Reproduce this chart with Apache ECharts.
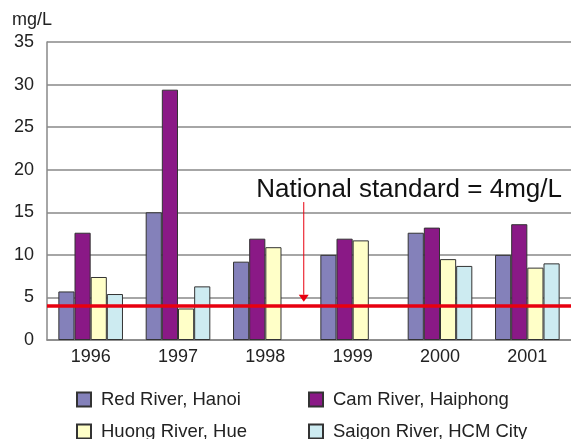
<!DOCTYPE html>
<html>
<head>
<meta charset="utf-8">
<title>Water quality of Vietnamese rivers</title>
<script src="https://cdn.jsdelivr.net/npm/echarts@6/dist/echarts.min.js"></script>
<style>
  html, body { margin: 0; padding: 0; background: #fff; }
  #chart { width: 571px; height: 439px; }
</style>
</head>
<body>
<div id="chart"></div>
<script>
// Years on the category axis
const years = ['1996', '1997', '1998', '1999', '2000', '2001'];

// Concentration per river, mg/L (null = no measurement)
const redRiverHanoi     = [5.7, 15.0, 9.2, 10.0, 12.6, 10.0];
const camRiverHaiphong  = [12.6, 29.4, 11.9, 11.9, 13.2, 13.6];
const huongRiverHue     = [7.4, 3.7, 10.9, 11.7, 9.5, 8.5];
const saigonRiverHcm    = [5.4, 6.3, null, null, 8.7, 9.0];

const seriesNames = ['Red River, Hanoi', 'Cam River, Haiphong', 'Huong River, Hue', 'Saigon River, HCM City'];
const seriesValues = [redRiverHanoi, camRiverHaiphong, huongRiverHue, saigonRiverHcm];
const seriesColors = ['#8481ba', '#8a1986', '#ffffc8', '#cdebf1'];

// National standard threshold and its annotation
const standardValue = 4;
const standardLabel = 'National standard = 4mg/L';
const arrowTopValue = 16.2;
const arrowTipValue = 4.5;

// Y-axis scale
const yMin = 0, yMax = 35, yStep = 5;

const FONT = '"Liberation Sans", Arial, Helvetica, sans-serif';

const chart = echarts.init(document.getElementById('chart'));

const series = seriesNames.map((name, i) => {
  const s = {
    name: name,
    type: 'bar',
    data: seriesValues[i],
    barGap: '0%',
    barCategoryGap: '26%',
    itemStyle: { color: seriesColors[i], borderColor: '#333', borderWidth: 1 },
    emphasis: { disabled: true },
    animation: false
  };
  if (i === 0) {
    s.markLine = {
      silent: true,
      symbol: 'none',
      label: { show: false },
      lineStyle: { color: '#e8000f', width: 3.5, type: 'solid' },
      data: [{ yAxis: standardValue }],
      animation: false
    };
  }
  return s;
});

// One legend per item so the two columns line up
const legendSpots = [
  { left: 76, top: 390 },
  { left: 308, top: 390 },
  { left: 76, top: 422 },
  { left: 308, top: 422 }
];
const legends = seriesNames.map((name, i) => ({
  data: [name],
  left: legendSpots[i].left,
  top: legendSpots[i].top,
  padding: 0,
  icon: 'rect',
  itemWidth: 14,
  itemHeight: 14,
  selectedMode: false,
  textStyle: { fontFamily: FONT, fontSize: 18.5, color: '#222', padding: [0, 0, 0, 5] }
}));

chart.setOption({
  backgroundColor: '#fff',
  animation: false,
  title: {
    text: 'mg/L',
    left: 12,
    top: 11,
    padding: 0,
    textStyle: { fontFamily: FONT, fontSize: 18, fontWeight: 'normal', color: '#222' }
  },
  legend: legends,
  grid: { left: 47, top: 42, width: 530, height: 298, containLabel: false },
  xAxis: {
    type: 'category',
    data: years,
    axisLine: { lineStyle: { color: '#888', width: 1.5 } },
    axisTick: { show: false },
    axisLabel: { fontFamily: FONT, fontSize: 18, color: '#222', margin: 8 },
    splitLine: { show: false }
  },
  yAxis: {
    type: 'value',
    min: yMin,
    max: yMax,
    interval: yStep,
    axisLine: { show: true, lineStyle: { color: '#888', width: 1.5 } },
    axisTick: { show: false },
    axisLabel: { fontFamily: FONT, fontSize: 18, color: '#222', margin: 13 },
    splitLine: { lineStyle: { color: '#888', width: 1.5 } }
  },
  series: series
});

// Annotation arrow pointing at the standard line, placed in data space
function drawAnnotation() {
  const c1998 = chart.convertToPixel({ xAxisIndex: 0 }, '1998');
  const c1999 = chart.convertToPixel({ xAxisIndex: 0 }, '1999');
  const x = c1998 + (c1999 - c1998) * 0.44;
  const yTop = chart.convertToPixel({ yAxisIndex: 0 }, arrowTopValue);
  const yTip = chart.convertToPixel({ yAxisIndex: 0 }, arrowTipValue);
  const headH = 7, headW = 5;
  chart.setOption({
    graphic: [
      {
        type: 'line',
        silent: true,
        shape: { x1: x, y1: yTop, x2: x, y2: yTip - headH },
        style: { stroke: '#e8000f', lineWidth: 1 }
      },
      {
        type: 'polygon',
        silent: true,
        shape: { points: [[x - headW, yTip - headH], [x + headW, yTip - headH], [x, yTip]] },
        style: { fill: '#e8000f' }
      },
      {
        type: 'text',
        silent: true,
        x: x - 47.5,
        y: yTop + 1,
        style: {
          text: standardLabel,
          font: '26px ' + FONT,
          fill: '#111',
          textAlign: 'left',
          textVerticalAlign: 'bottom'
        }
      }
    ]
  });
}
drawAnnotation();
</script>
</body>
</html>
